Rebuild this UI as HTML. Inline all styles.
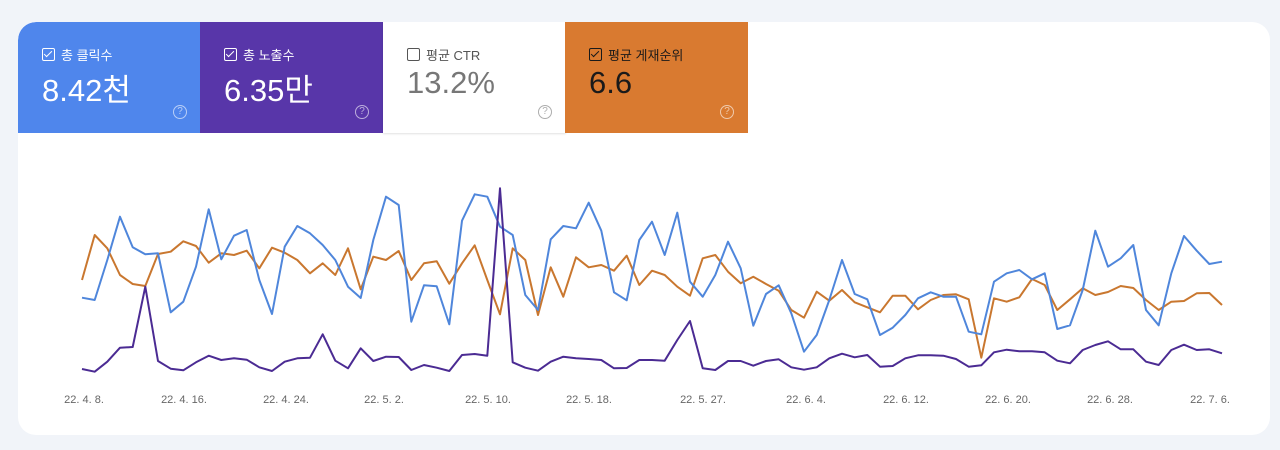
<!DOCTYPE html>
<html><head><meta charset="utf-8"><style>
body{margin:0;width:1280px;height:450px;background:#f1f4f9;font-family:"Liberation Sans","Noto Sans CJK KR",sans-serif;overflow:hidden;position:relative}
.card{position:absolute;left:18px;top:22px;width:1252px;height:413px;background:#fff;border-radius:18px;overflow:hidden}
.tile{position:absolute;top:0;height:111px;width:183px}
.lab{position:absolute;left:24px;top:23px;font-size:13px;display:flex;align-items:center}
.cb{width:11px;height:11px;border:1.5px solid currentColor;border-radius:2px;margin-right:6px;position:relative}
.cb.c:after{content:"";position:absolute;left:3px;top:0px;width:3px;height:7px;border:solid currentColor;border-width:0 1.5px 1.5px 0;transform:rotate(45deg)}
.val{position:absolute;left:24px;top:43px;font-size:31px}
.q{position:absolute;left:155px;top:83px;width:12px;height:12px;border:1.3px solid currentColor;border-radius:50%;font-size:10px;line-height:12px;text-align:center;opacity:.6}
.xl{position:absolute;top:394px;font-size:11px;color:#666;transform:translateX(-50%);white-space:nowrap}
</style></head><body>
<div class="card">
<div class="tile" style="left:0;background:#4f86ec;color:#fff;border-top-left-radius:18px"><div class="lab"><span class="cb c"></span>총 클릭수</div><div class="val">8.42천</div><div class="q">?</div></div>
<div class="tile" style="left:182px;background:#5836a9;color:#fff"><div class="lab"><span class="cb c"></span>총 노출수</div><div class="val">6.35만</div><div class="q">?</div></div>
<div class="tile" style="left:365px;background:#fff;color:#777;box-shadow:0 1px 2px rgba(0,0,0,.12)"><div class="lab" style="color:#555"><span class="cb"></span>평균 CTR</div><div class="val">13.2%</div><div class="q">?</div></div>
<div class="tile" style="left:547px;background:#d97a30;color:#1a1a1a"><div class="lab"><span class="cb c"></span>평균 게재순위</div><div class="val">6.6</div><div class="q" style="color:#fff">?</div></div>
</div>
<svg id="s" width="1280" height="450" style="position:absolute;left:0;top:0"></svg>
<div class="xl" style="left:84px">22. 4. 8.</div>
<div class="xl" style="left:184px">22. 4. 16.</div>
<div class="xl" style="left:286px">22. 4. 24.</div>
<div class="xl" style="left:384px">22. 5. 2.</div>
<div class="xl" style="left:488px">22. 5. 10.</div>
<div class="xl" style="left:589px">22. 5. 18.</div>
<div class="xl" style="left:703px">22. 5. 27.</div>
<div class="xl" style="left:806px">22. 6. 4.</div>
<div class="xl" style="left:906px">22. 6. 12.</div>
<div class="xl" style="left:1008px">22. 6. 20.</div>
<div class="xl" style="left:1110px">22. 6. 28.</div>
<div class="xl" style="left:1210px">22. 7. 6.</div>
<script>
var B=[353,360,240,110,202,223,220,397,365,260,88,238,167,150,300,402,200,138,160,195,240,320,354,180,50,75,425,316,319,433,122,43,50,140,165,345,390,178,138,145,68,152,337,361,180,
125,225,98,305,350,285,185,265,437,342,316,400,515,465,360,240,342,358,465,443,405,355,337,350,350,455,463,305,280,270,298,280,447,436,330,152,260,235,195,390,436,280,168,212,252,245];
var O=[300,165,205,285,312,318,222,215,184,198,248,220,225,212,265,203,218,240,280,250,285,205,328,230,240,213,300,250,244,311,250,196,300,403,205,240,405,262,350,232,262,255,272,227,315,
272,285,320,347,235,225,275,310,290,312,332,390,413,335,362,330,367,382,397,347,347,388,360,345,343,358,533,355,365,352,297,315,390,358,325,345,336,318,324,360,390,365,363,340,339,375];
var P=[567,575,545,503,501,320,543,566,571,547,527,540,535,539,562,573,545,535,533,463,542,565,505,543,530,531,570,555,563,573,525,522,527,25,547,563,572,545,530,535,537,540,565,564,540,
540,542,480,423,565,570,543,543,557,543,538,562,569,562,535,521,532,525,560,558,535,526,526,527,537,560,556,517,509,514,514,517,542,550,510,495,484,508,508,545,555,510,494,510,508,520];
function pl(a,c){var n=a.length,s="";for(var i=0;i<n;i++){s+=(82+i*(1140/(n-1))).toFixed(1)+","+(180+a[i]/3).toFixed(1)+" ";}
return '<polyline points="'+s+'" fill="none" stroke="'+c+'" stroke-width="2" stroke-linejoin="round"/>';}
document.getElementById("s").innerHTML=pl(O,"#c9772f")+pl(B,"#4f86db")+pl(P,"#4b2b93");
</script>
</body></html>
